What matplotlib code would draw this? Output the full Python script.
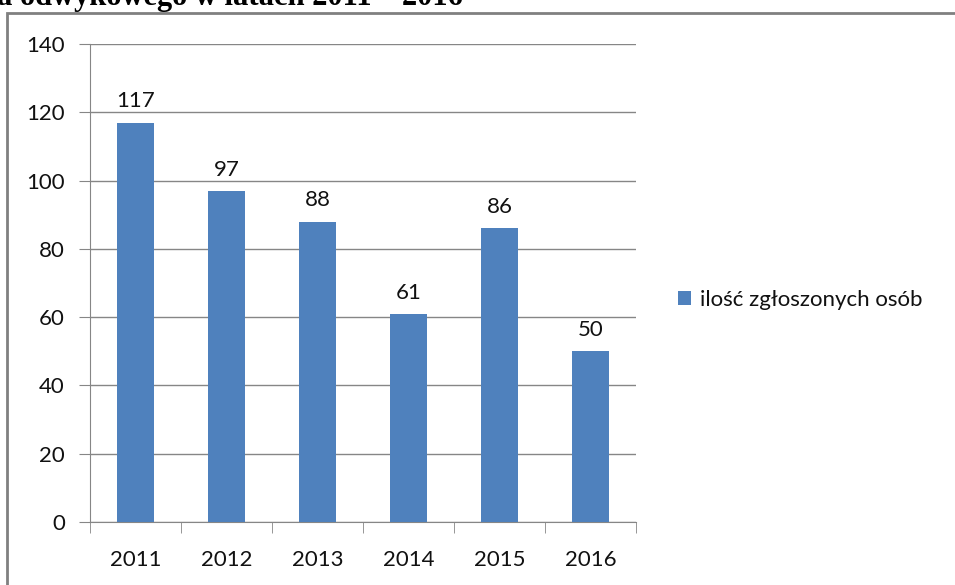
import matplotlib
matplotlib.use("Agg")
import matplotlib.pyplot as plt
from matplotlib.patches import Rectangle

years = ["2011", "2012", "2013", "2014", "2015", "2016"]
values = [117, 97, 88, 61, 86, 50]
series_name = "ilość zgłoszonych osób"
title_text = "a odwykowego w latach 2011 – 2016"

W, H = 955, 585
fig = plt.figure(figsize=(W / 100, H / 100), dpi=100)
fig.patch.set_facecolor("white")

plt.rcParams["font.family"] = ["Lato", "DejaVu Sans"]
FS = 16

ax = fig.add_axes([90 / W, (H - 522) / H, (636 - 90) / W, (522 - 44) / H])
x = list(range(len(years)))
bars = ax.bar(x, values, width=0.41, color="#4F81BD", label=series_name, zorder=3)
ax.set_xlim(-0.5, len(years) - 0.5)
ax.set_ylim(0, 140)
ax.set_yticks(range(0, 141, 20))
ax.set_xticks(x)
ax.set_xticklabels(years)
ax.set_xticks([i - 0.5 for i in range(len(years) + 1)], minor=True)

grid_c = "#868686"
ax.yaxis.grid(True, color=grid_c, linewidth=1, zorder=0)
for s in ["top", "right"]:
    ax.spines[s].set_visible(False)
ax.spines["left"].set_color(grid_c)
ax.spines["bottom"].set_color(grid_c)
ax.tick_params(axis="y", length=8, color=grid_c, labelsize=FS, pad=10, labelcolor="#111111")
ax.tick_params(axis="x", which="major", length=0, labelsize=FS, pad=20, labelcolor="#111111")
ax.tick_params(axis="x", which="minor", length=8, color=grid_c)

for xi, v in zip(x, values):
    ax.annotate(str(v), (xi, v), xytext=(0, 8), textcoords="offset points",
                ha="center", va="bottom", fontsize=FS, color="#111111")

fig.legend(handles=[bars], labels=[series_name], loc="center left",
           bbox_to_anchor=(658 / W, 1 - 300 / H), frameon=False, fontsize=FS,
           handlelength=0.6, handleheight=0.6, handletextpad=0.4, labelcolor="#111111")

# outer frame (clipped at right and bottom)
fig.patches.append(Rectangle((7 / W, -0.1), 1.2, 1 - 13 / H + 0.1, transform=fig.transFigure,
                             fill=False, edgecolor="#808080", linewidth=2))

fig.text(-3 / W, 1 - 5 / H, title_text, ha="left", va="baseline",
         fontsize=22, fontweight="bold", family=["Liberation Serif"], color="black")

fig.savefig("out.png", dpi=100)
